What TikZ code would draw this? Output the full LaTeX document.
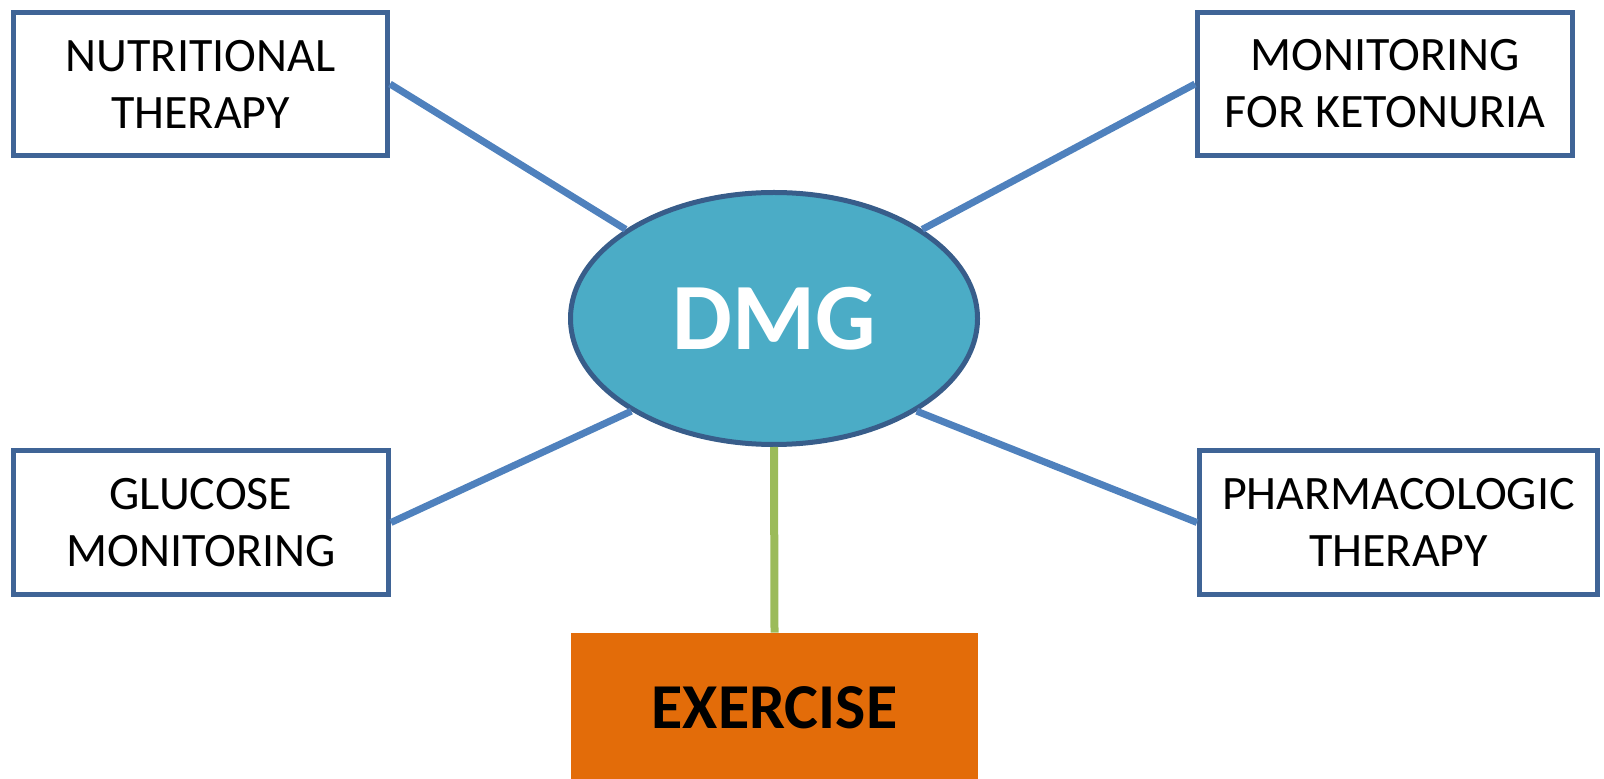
\documentclass[tikz,border=0pt]{standalone}
\usepackage{fontspec}
\setmainfont{Carlito}
\usetikzlibrary{shapes.geometric}
\definecolor{boxline}{HTML}{3F6496}
\definecolor{linkblue}{HTML}{4F81BD}
\definecolor{dmgfill}{HTML}{4BACC6}
\definecolor{dmgline}{HTML}{385D8A}
\definecolor{linkgreen}{HTML}{9BBB59}
\definecolor{exfill}{HTML}{E36C09}
\begin{document}
\begin{tikzpicture}[x=0.5pt,y=-0.5pt]
      \tikzstyle{topic} = [rectangle, minimum height=71.5pt, inner sep=0pt, align=center, text centered, draw=boxline, line width=2.5pt, fill=white, font=\fontsize{24}{28.5}\selectfont]
      \tikzstyle{hub} = [ellipse, minimum width=203.5pt, minimum height=126pt, inner sep=0pt, draw=dmgline, line width=2.5pt, fill=dmgfill, text=white, font=\fontsize{47.5}{57}\selectfont\bfseries]
      \tikzstyle{link} = [linkblue, line width=3.5pt]

      \useasboundingbox (0,0) rectangle (1604,779);

      \node (dmg) [hub] at (774,318.5) {DMG};
      \node (nutr) [topic, minimum width=187pt] at (200.5,84) {NUTRITIONAL\\THERAPY};
      \node (keto) [topic, minimum width=187.5pt] at (1385,84) {MONITORING\\FOR KETONURIA};
      \node (gluc) [topic, minimum width=187.5pt] at (201,522.5) {GLUCOSE\\MONITORING};
      \node (pharm) [topic, minimum width=199pt] at (1398.5,522.5) {PHARMACOLOGIC\\THERAPY};
      \node (exer) [rectangle, fill=exfill, inner sep=0pt, minimum width=203.5pt, minimum height=75pt, font=\fontsize{32}{38}\selectfont\bfseries] at (774.5,708) {EXERCISE};

      \draw [link] (nutr.east) -- (dmg.149);
      \draw [link] (keto.west) -- (dmg.31);
      \draw [link] (gluc.east) -- (dmg.213);
      \draw [link] (pharm.west) -- (dmg.-33);
      \draw [linkgreen, line width=4pt] (dmg.south) -- (exer.north);
   \end{tikzpicture}
\end{document}
